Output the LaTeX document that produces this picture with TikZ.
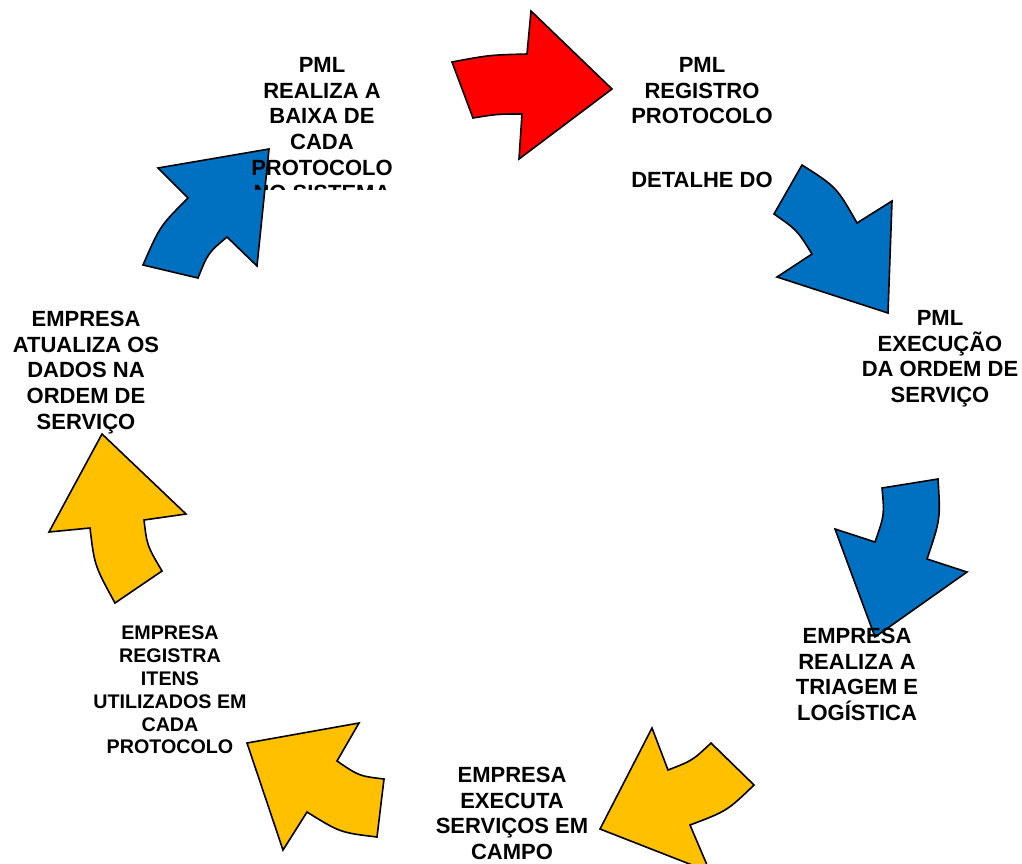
\documentclass[tikz,border=0pt]{standalone}
\usepackage{fontspec}
\setmainfont{Liberation Sans}
\definecolor{cred}{HTML}{FF0000}
\definecolor{cblue}{HTML}{0070C0}
\definecolor{cyel}{HTML}{FFC000}
\tikzset{
  blockarrow/.style={draw=black, line width=1.6pt, line join=miter},
  lbl/.style={anchor=north, inner sep=0pt, align=center, text=black,
    font=\fontsize{22}{25.7}\selectfont\bfseries},
  lblsmall/.style={anchor=north, inner sep=0pt, align=center, text=black,
    font=\fontsize{19.7}{22.8}\selectfont\bfseries}
}
\begin{document}
\begin{tikzpicture}[x=1pt,y=-1pt]
\useasboundingbox (0,0) rectangle (1022,863);
\clip (0,0) rectangle (1022,863);
% red arrow (top)
\fill[cred, blockarrow] (452,62) .. controls (489.5,55) .. (527,54) -- (531,11) -- (612,89) -- (519,159) -- (522,114) .. controls (497.5,114) .. (473,118) -- cycle;
% blue arrow top-left
\fill[cblue, blockarrow] (143,265) -- (198,278) .. controls (208,253) .. (227,237) -- (257,266) -- (269,149) -- (158,168) -- (188,198) .. controls (160,226) .. (143,265) -- cycle;
% blue arrow right-top
\fill[cblue, blockarrow] (802,165) -- (774,214) .. controls (797,230) .. (812,254) -- (777,277) -- (888,313) -- (892,201) -- (857,223) .. controls (836.5,187) .. (802,165) -- cycle;
% blue arrow right-lower
\fill[cblue, blockarrow] (882,488) -- (938,479) .. controls (940.5,519) .. (927,559) -- (967,572) -- (875,637) -- (835,529) -- (875,542) .. controls (884.5,515) .. (882,488) -- cycle;
% yellow arrow bottom-right
\fill[cyel, blockarrow] (711,743) -- (754,785) .. controls (727,811) .. (690,825) -- (710,872) -- (600,829) -- (652,728) -- (668,770) .. controls (692.5,760.5) .. (711,743) -- cycle;
% yellow arrow bottom-left
\fill[cyel, blockarrow] (384,779) -- (377,837) .. controls (340,832.5) .. (307,812) -- (283,850) -- (247,743) -- (359,723) -- (337,761) .. controls (359,776) .. (384,779) -- cycle;
% yellow arrow left
\fill[cyel, blockarrow] (115,603) -- (162,571) .. controls (147,545.5) .. (144,520) -- (186,514) -- (102,434) -- (49,532) -- (90,528) .. controls (94.5,565.5) .. (115,603) -- cycle;

% labels
\node[lbl] (t1) at (702,57) {PML\\REGISTRO\\PROTOCOLO\\[38.3pt]DETALHE DO};
\begin{scope}
\clip (200,0) rectangle (450,189);
\node[lbl] (t2) at (322,57) {PML\\REALIZA A\\BAIXA DE\\CADA\\PROTOCOLO\\NO SISTEMA};
\end{scope}
\node[lbl] (t3) at (940,310) {PML\\EXECUÇÃO\\DA ORDEM DE\\SERVIÇO};
\node[lbl] (t4) at (857,628) {EMPRESA\\REALIZA A\\TRIAGEM E\\LOGÍSTICA};
\node[lbl] (t5) at (512,767) {EMPRESA\\EXECUTA\\SERVIÇOS EM\\CAMPO};
\node[lbl] (t6) at (86,311) {EMPRESA\\ATUALIZA OS\\DADOS NA\\ORDEM DE\\SERVIÇO};
\node[lblsmall] (t7) at (170,626) {EMPRESA\\REGISTRA\\ITENS\\UTILIZADOS EM\\CADA\\PROTOCOLO};
\end{tikzpicture}
\end{document}
